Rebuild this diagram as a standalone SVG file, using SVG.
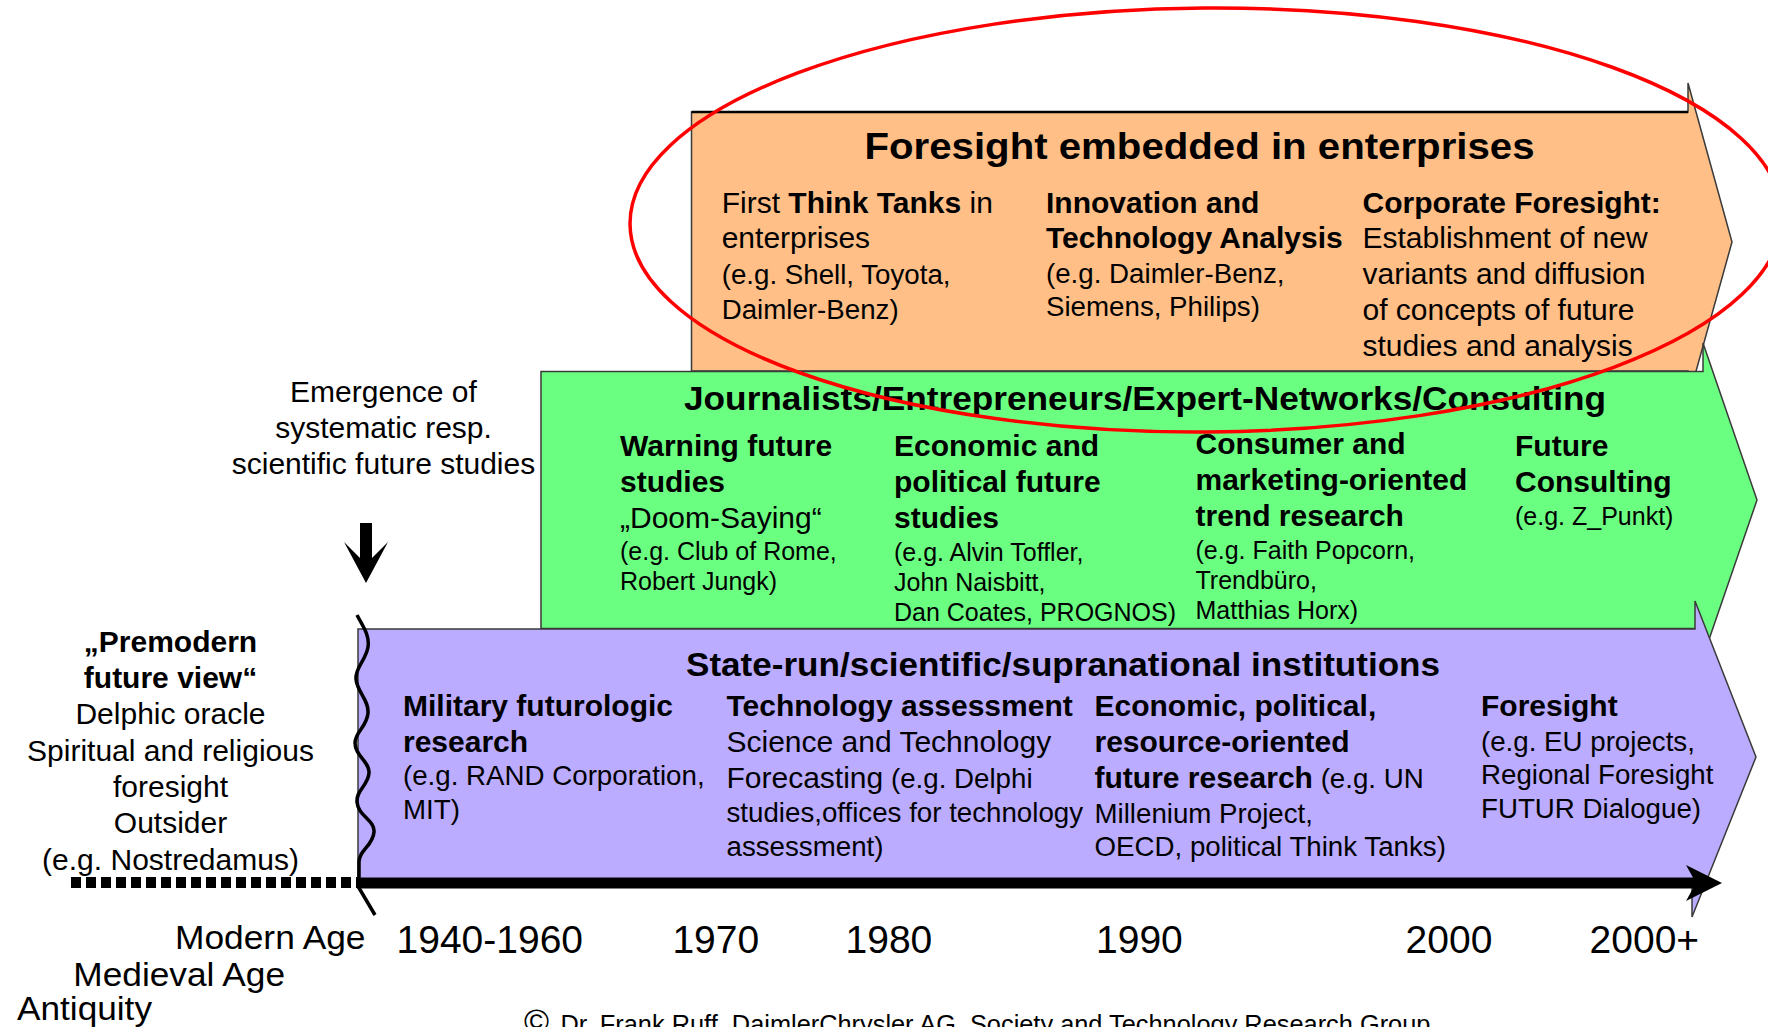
<svg xmlns="http://www.w3.org/2000/svg" width="1768" height="1027" viewBox="0 0 1768 1027">
<style>
.t{font-family:"Liberation Sans",Arial,Helvetica,sans-serif;fill:#000}
.b{font-weight:bold}
.s30{font-size:30px}
.s28{font-size:27.7px}
.s25{font-size:25px}
.c{text-anchor:middle}
.shape{stroke:#3a3a3a;stroke-width:1.5}
</style>
<rect width="1768" height="1027" fill="#fff"/>

<g id="node-enterprises">
<path class="shape" d="M691.5,112 L1688,112 L1688,83 L1732,242 L1688,400 L1688,371 L691.5,371 Z" fill="#FFBF87"/>
<line x1="691.5" y1="112" x2="1688" y2="112" stroke="#000" stroke-width="2.5"/>
<text class="t b" x="864.5" y="158.5" font-size="36" textLength="670" lengthAdjust="spacingAndGlyphs">Foresight embedded in enterprises</text>
<text class="t s30" x="721.7" y="213">First <tspan class="b">Think Tanks</tspan> in</text>
<text class="t s30" x="721.7" y="248">enterprises</text>
<text class="t s28" x="721.7" y="283.5">(e.g. Shell, Toyota,</text>
<text class="t s28" x="721.7" y="318.5">Daimler-Benz)</text>
<text class="t s30 b" x="1046" y="213">Innovation and</text>
<text class="t s30 b" x="1046" y="248">Technology Analysis</text>
<text class="t s28" x="1046" y="283">(e.g. Daimler-Benz,</text>
<text class="t s28" x="1046" y="315.5">Siemens, Philips)</text>
<text class="t s30 b" x="1362.5" y="213">Corporate Foresight:</text>
<text class="t s30" x="1362.5" y="248">Establishment of new</text>
<text class="t s30" x="1362.5" y="283.5">variants and diffusion</text>
<text class="t s30" x="1362.5" y="319.5">of concepts of future</text>
<text class="t s30" x="1362.5" y="356">studies and analysis</text>
</g>

<g id="node-journalists">
<path class="shape" d="M541,371.5 L1703,371.5 L1703,343 L1757,500 L1703,657 L1703,628.5 L541,628.5 Z" fill="#6BFF82"/>
<text class="t b" x="684" y="409.5" font-size="33" textLength="922" lengthAdjust="spacingAndGlyphs">Journalists/Entrepreneurs/Expert-Networks/Consulting</text>
<text class="t s30 b" x="620" y="456">Warning future</text>
<text class="t s30 b" x="620" y="492">studies</text>
<text class="t s30" x="620" y="528">„Doom-Saying“</text>
<text class="t s25" x="620" y="559.5">(e.g. Club of Rome,</text>
<text class="t s25" x="620" y="589.5">Robert Jungk)</text>
<text class="t s30 b" x="894" y="456">Economic and</text>
<text class="t s30 b" x="894" y="492">political future</text>
<text class="t s30 b" x="894" y="528">studies</text>
<text class="t s25" x="894" y="560.5">(e.g. Alvin Toffler,</text>
<text class="t s25" x="894" y="590.5">John Naisbitt,</text>
<text class="t s25" x="894" y="620.5">Dan Coates, PROGNOS)</text>
<text class="t s30 b" x="1195.5" y="454">Consumer and</text>
<text class="t s30 b" x="1195.5" y="490">marketing-oriented</text>
<text class="t s30 b" x="1195.5" y="526">trend research</text>
<text class="t s25" x="1195.5" y="559">(e.g. Faith Popcorn,</text>
<text class="t s25" x="1195.5" y="589">Trendbüro,</text>
<text class="t s25" x="1195.5" y="619">Matthias Horx)</text>
<text class="t s30 b" x="1515" y="456">Future</text>
<text class="t s30 b" x="1515" y="492">Consulting</text>
<text class="t s25" x="1515" y="525">(e.g. Z_Punkt)</text>
</g>

<g id="node-state">
<path class="shape" d="M358,629 L1695,629 L1695,601 L1756,757 L1692,917 L1692,881 L358,881 Z" fill="#BBACFF"/>
<text class="t b" x="686" y="675.5" font-size="34" textLength="754" lengthAdjust="spacingAndGlyphs">State-run/scientific/supranational institutions</text>
<text class="t s30 b" x="403" y="716">Military futurologic</text>
<text class="t s30 b" x="403" y="751.5">research</text>
<text class="t s28" x="403" y="785">(e.g. RAND Corporation,</text>
<text class="t s28" x="403" y="819">MIT)</text>
<text class="t s30 b" x="726.5" y="716">Technology assessment</text>
<text class="t s30" x="726.5" y="752">Science and Technology</text>
<text class="t s30" x="726.5" y="788">Forecasting<tspan class="s28"> (e.g. Delphi</tspan></text>
<text class="t s28" x="726.5" y="822">studies,offices for technology</text>
<text class="t s28" x="726.5" y="855.5">assessment)</text>
<text class="t s30 b" x="1094.5" y="716">Economic, political,</text>
<text class="t s30 b" x="1094.5" y="752">resource-oriented</text>
<text class="t s30" x="1094.5" y="788"><tspan class="b">future research</tspan><tspan class="s28"> (e.g. UN</tspan></text>
<text class="t s28" x="1094.5" y="822.5">Millenium Project,</text>
<text class="t s28" x="1094.5" y="855.5">OECD, political Think Tanks)</text>
<text class="t s30 b" x="1481" y="715.5">Foresight</text>
<text class="t s28" x="1481" y="750.5">(e.g. EU projects,</text>
<text class="t s28" x="1481" y="784">Regional Foresight</text>
<text class="t s28" x="1481" y="817.5">FUTUR Dialogue)</text>
</g>

<g id="label-emergence">
<text class="t s30 c" x="383.5" y="402">Emergence of</text>
<text class="t s30 c" x="383.5" y="438">systematic resp.</text>
<text class="t s30 c" x="383.5" y="474">scientific future studies</text>
</g>

<g id="label-premodern">
<text class="t s30 b c" x="170.5" y="651.5">„Premodern</text>
<text class="t s30 b c" x="170.5" y="687.8">future view“</text>
<text class="t s30 c" x="170.5" y="724">Delphic oracle</text>
<text class="t s30 c" x="170.5" y="760.5">Spiritual and religious</text>
<text class="t s30 c" x="170.5" y="796.7">foresight</text>
<text class="t s30 c" x="170.5" y="833">Outsider</text>
<text class="t s30 c" x="170.5" y="870">(e.g. Nostredamus)</text>
</g>

<g id="connectors">
<polygon points="360,523 372,523 372,558 388,542 366,583 344,542 360,558" fill="#000"/>
<line x1="71" y1="882.5" x2="357" y2="882.5" stroke="#000" stroke-width="11" stroke-dasharray="10 5"/>
<line x1="357" y1="883" x2="1697" y2="883" stroke="#000" stroke-width="11"/>
<polygon points="1686,865 1722,883 1686,901 1696,883" fill="#000"/>
<path d="M357,615 C362,625 370,635 368,647 C366,660 355,668 356,679 C357,692 369,700 368,713 C367,727 355,732 355,743 C355,756 370,762 369,773 C368,786 356,790 357,802 C358,816 375,820 374,832 C373,846 359,850 359,862 L359,888 L375,915" fill="none" stroke="#000" stroke-width="3.5"/>
</g>

<g id="timeline-labels">
<text class="t" x="175" y="949" font-size="34" textLength="190.5" lengthAdjust="spacingAndGlyphs">Modern Age</text>
<text class="t" x="73.3" y="985.5" font-size="34" textLength="211.7" lengthAdjust="spacingAndGlyphs">Medieval Age</text>
<text class="t" x="17" y="1020" font-size="34" textLength="135" lengthAdjust="spacingAndGlyphs">Antiquity</text>
<text class="t" x="396.5" y="953" font-size="39">1940-1960</text>
<text class="t" x="672.4" y="953" font-size="39">1970</text>
<text class="t" x="845.5" y="953" font-size="39">1980</text>
<text class="t" x="1096" y="953" font-size="39">1990</text>
<text class="t" x="1405.6" y="953" font-size="39">2000</text>
<text class="t" x="1589.6" y="953" font-size="39">2000+</text>
</g>

<g id="copyright">
<text class="t" x="524" y="1033" font-size="34">©</text>
<text class="t" x="560.4" y="1033" font-size="25" textLength="870" lengthAdjust="spacingAndGlyphs">Dr. Frank Ruff, DaimlerChrysler AG, Society and Technology Research Group</text>
</g>

<g id="highlight">
<ellipse cx="1206" cy="220" rx="576" ry="212" transform="rotate(-0.4 1206 220)" fill="none" stroke="#FF0000" stroke-width="3.5"/>
</g>
</svg>
